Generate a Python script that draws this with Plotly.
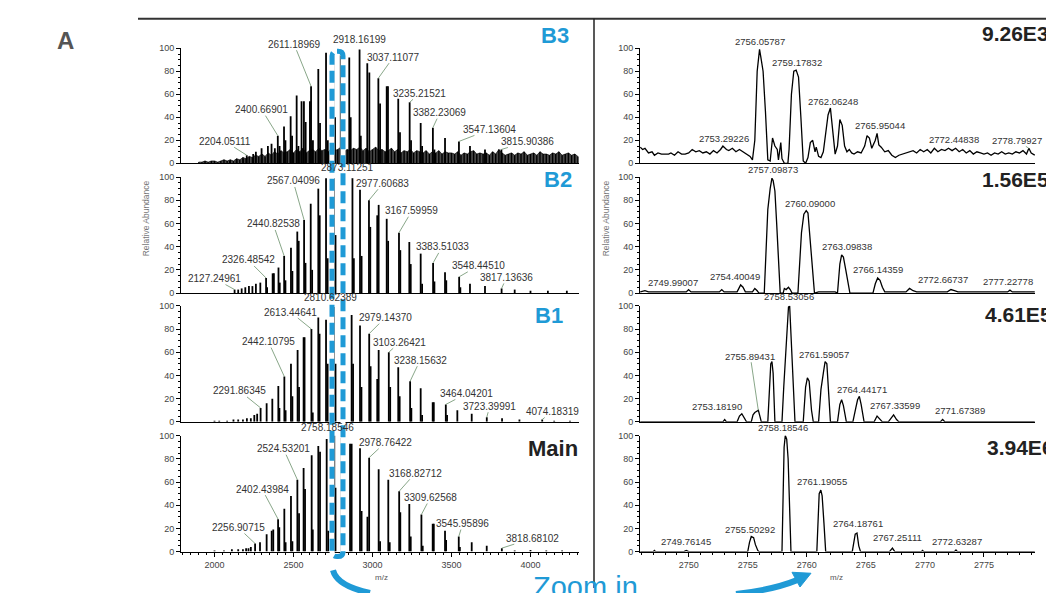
import plotly.graph_objects as go

W, H = 1046, 593

# ------------------------------------------------------------------ data
# Left column: centroid (stick) spectra  (m/z, relative abundance)
B3_MZ = [2098, 2140, 2182, 2204.05, 2245, 2262, 2298, 2338, 2361, 2382,
         2400.67, 2412, 2440, 2449, 2482, 2491, 2520, 2531, 2551, 2566, 2577,
         2604, 2611.19, 2623, 2657, 2668, 2706, 2717, 2752, 2763, 2799, 2810,
         2853, 2862, 2918.16, 2926, 2967, 2980, 3037.11, 3048, 3090, 3098,
         3163, 3174, 3235.22, 3244, 3305, 3314, 3382.23, 3392, 3459, 3547.14,
         3617, 3712, 3815.90]
B3_INT = [2, 3, 4, 7, 8, 10, 13, 15, 17, 13,
          24, 15, 32, 20, 41, 24, 59, 15, 54, 54, 36,
          54, 67, 20, 82, 35, 96, 20, 96, 40, 94, 40,
          92, 40, 99, 24, 87, 79, 74, 52, 67, 67,
          56, 27, 53, 20, 35, 15, 31, 12, 22, 19,
          15, 12, 12]
# chemical-noise floor of B3, one value every 20 m/z from 1900 to 4300
B3_NOISE_MZ = list(range(1900, 4301, 20))
B3_NOISE_INT = [1, 1, 2, 1, 2, 2, 1, 2, 3, 2,
                3, 2, 4, 3, 5, 4, 6, 5, 7, 6,
                8, 6, 9, 7, 10, 8, 11, 9, 10, 12,
                9, 12, 10, 13, 9, 11, 12, 10, 13, 11,
                12, 10, 13, 11, 12, 14, 10, 12, 11, 13,
                12, 14, 11, 13, 10, 12, 14, 11, 12, 10,
                11, 13, 10, 12, 9, 11, 10, 12, 9, 11,
                10, 9, 11, 8, 10, 9, 11, 8, 10, 9,
                9, 8, 10, 7, 9, 8, 10, 11, 8, 9,
                8, 9, 7, 10, 8, 12, 9, 7, 8, 9,
                7, 9, 8, 10, 7, 8, 9, 7, 10, 8,
                8, 7, 9, 8, 10, 7, 8, 9, 7, 8,
                6]

B2_MZ = [2127.25, 2150, 2172, 2195, 2218, 2240, 2262, 2290, 2326.49, 2333,
         2368, 2376, 2405, 2413, 2440.83, 2449, 2484, 2493, 2524, 2533,
         2567.04, 2576, 2609, 2618, 2657, 2666, 2706, 2716, 2756, 2766,
         2810, 2819, 2873.11, 2882, 2921, 2931, 2977.61, 2986, 3030, 3039,
         3090, 3099, 3167.60, 3176, 3233, 3242, 3305, 3314, 3383.51, 3392,
         3459, 3467, 3548.45, 3556, 3617, 3712, 3817.14, 3900, 4000, 4110, 4230]
B2_INT = [3, 3, 4, 5, 6, 6, 8, 9, 13, 5,
          17, 17, 22, 9, 32, 11, 39, 19, 53, 45,
          63, 26, 77, 20, 90, 67, 99, 30, 99, 50,
          99, 40, 99, 30, 89, 32, 80, 57, 67, 76,
          64, 45, 52, 37, 44, 25, 34, 8, 26, 10,
          18, 11, 14, 5, 8, 6, 4, 3, 2, 2, 2]

B1_MZ = [2000, 2030, 2080, 2120, 2150, 2180, 2205, 2230, 2252, 2270,
         2291.86, 2330, 2366, 2404, 2411, 2442.11, 2450, 2484, 2493, 2526,
         2535, 2564, 2570, 2613.45, 2622, 2657, 2665, 2706, 2716, 2756,
         2766, 2810.62, 2818, 2868, 2877, 2921, 2930, 2979.14, 2988, 3030,
         3039, 3103.26, 3112, 3163, 3172, 3238.16, 3246, 3305, 3314, 3381,
         3388, 3464.04, 3472, 3537, 3628, 3723.40, 3820, 3930, 4074.18, 4150, 4250]
B1_INT = [1, 1, 1, 2, 2, 2, 3, 3, 6, 7,
          12, 16, 20, 31, 12, 39, 10, 50, 22, 62,
          30, 73, 73, 80, 8, 90, 76, 88, 50, 99,
          50, 100, 50, 92, 50, 83, 30, 76, 48, 37,
          62, 60, 30, 47, 22, 35, 12, 29, 6, 17,
          17, 15, 6, 10, 7, 4, 3, 2, 2, 1, 1]

MAIN_MZ = [2000, 2060, 2110, 2150, 2180, 2200, 2215, 2230, 2256.91, 2288,
           2330, 2362, 2372, 2402.44, 2410, 2442, 2450, 2484, 2493, 2524.53,
           2535, 2564, 2573, 2615, 2622, 2657, 2668, 2710, 2720, 2758.19,
           2766, 2805, 2815, 2858, 2868, 2921, 2931, 2968, 2978.76, 3039,
           3048, 3100, 3109, 3168.83, 3176, 3233, 3242, 3309.63, 3318, 3381,
           3388, 3459, 3466, 3545.96, 3553, 3628, 3723, 3818.68, 3900, 4000,
           4100, 4200]
MAIN_INT = [1, 1, 2, 2, 2, 3, 3, 4, 7, 8,
            15, 18, 19, 28, 21, 37, 8, 48, 9, 62,
            33, 72, 54, 83, 19, 91, 86, 97, 18, 100,
            55, 98, 54, 93, 93, 89, 35, 30, 81, 71,
            9, 62, 8, 52, 34, 41, 13, 32, 5, 24,
            24, 18, 10, 13, 4, 8, 5, 3, 1, 1.5,
            1, 1]

# Right column: profile spectra, zoom on 2746-2779 (m/z, relative abundance)
RB3_PROFILE = [
    (2745.9, 14), (2746.1, 12), (2746.3, 13), (2746.6, 9), (2746.9, 10), (2747.1, 7),
    (2747.4, 9), (2747.7, 8), (2748.0, 8), (2748.3, 8), (2748.5, 9), (2748.8, 7),
    (2749.1, 10), (2749.4, 8), (2749.7, 8), (2750.0, 9), (2750.3, 12), (2750.6, 10),
    (2750.9, 11), (2751.2, 9), (2751.5, 10), (2751.8, 8), (2752.1, 11), (2752.4, 9),
    (2752.7, 12), (2752.9, 15), (2753.2, 12), (2753.4, 11), (2753.7, 13), (2754.0, 10),
    (2754.3, 12), (2754.6, 10), (2754.9, 8), (2755.2, 6), (2755.4, 3), (2755.6, 20),
    (2755.8, 80), (2756.0, 99), (2756.1, 93), (2756.3, 80), (2756.5, 45), (2756.7, 3),
    (2756.9, 2), (2757.1, 22), (2757.3, 15), (2757.5, 12), (2757.6, 3), (2757.8, 18),
    (2757.9, 4), (2758.1, 0), (2758.4, 0), (2758.5, 12), (2758.7, 60), (2758.9, 80),
    (2759.1, 81), (2759.3, 75), (2759.5, 40), (2759.7, 2), (2759.9, 0), (2760.1, 5),
    (2760.3, 18), (2760.5, 20), (2760.7, 10), (2760.8, 14), (2761.0, 6), (2761.2, 5),
    (2761.4, 10), (2761.6, 25), (2761.8, 42), (2762.0, 48), (2762.2, 30), (2762.4, 8),
    (2762.6, 15), (2762.8, 38), (2763.0, 33), (2763.2, 15), (2763.4, 10), (2763.6, 12),
    (2763.8, 9), (2764.0, 8), (2764.3, 10), (2764.6, 9), (2764.9, 15), (2765.1, 24),
    (2765.3, 22), (2765.5, 13), (2765.8, 20), (2765.95, 26), (2766.1, 16), (2766.3, 14),
    (2766.6, 10), (2766.9, 11), (2767.2, 7), (2767.5, 5), (2767.8, 7), (2768.1, 8),
    (2768.4, 9), (2768.7, 10), (2769.0, 11), (2769.3, 9), (2769.6, 12), (2769.9, 10),
    (2770.2, 12), (2770.5, 9), (2770.8, 13), (2771.1, 10), (2771.4, 12), (2771.7, 11),
    (2772.0, 13), (2772.3, 11), (2772.6, 13), (2772.9, 10), (2773.2, 12), (2773.5, 9),
    (2773.8, 11), (2774.1, 8), (2774.4, 10), (2774.7, 9), (2775.0, 8), (2775.3, 9),
    (2775.6, 7), (2775.9, 9), (2776.2, 8), (2776.5, 10), (2776.8, 8), (2777.1, 9),
    (2777.4, 8), (2777.7, 10), (2778.0, 9), (2778.3, 11), (2778.6, 8), (2778.8, 13),
    (2779.0, 9), (2779.3, 7)]

RB2_PROFILE = [
    (2745.9, 1), (2746.3, 2), (2746.6, 1), (2749.8, 1), (2749.99, 3), (2750.2, 1),
    (2752.6, 1), (2752.8, 3), (2753.0, 1), (2754.1, 1), (2754.25, 4), (2754.4, 7),
    (2754.6, 5), (2754.8, 1), (2755.4, 1), (2755.6, 4), (2755.8, 2), (2755.95, 0),
    (2756.4, 0), (2756.55, 30), (2756.7, 72), (2756.9, 90), (2757.05, 99), (2757.15, 97),
    (2757.3, 88), (2757.45, 60), (2757.6, 30), (2757.75, 0), (2758.0, 0), (2758.1, 4),
    (2758.25, 3), (2758.45, 5), (2758.6, 3), (2758.75, 0), (2759.25, 0), (2759.4, 30),
    (2759.55, 52), (2759.75, 68), (2759.95, 71), (2760.1, 69), (2760.3, 45), (2760.5, 20),
    (2760.65, 0), (2761.0, 1), (2762.4, 1), (2762.6, 0), (2762.8, 25), (2762.95, 33),
    (2763.1, 31), (2763.3, 20), (2763.5, 8), (2763.65, 0), (2765.6, 0), (2765.8, 8),
    (2766.0, 13), (2766.2, 11), (2766.4, 5), (2766.6, 1), (2768.4, 1), (2768.7, 4),
    (2769.0, 2), (2769.3, 1), (2771.9, 1), (2772.2, 3), (2772.5, 2), (2772.8, 1),
    (2777.0, 1), (2777.2, 2.5), (2777.4, 1), (2779.3, 1)]

RB1_PROFILE = [
    (2745.9, 0), (2752.9, 0), (2753.05, 2), (2753.2, 0), (2754.1, 0), (2754.3, 5),
    (2754.5, 7), (2754.7, 4), (2754.9, 0), (2755.3, 0), (2755.45, 6), (2755.6, 8),
    (2755.75, 9), (2755.9, 10), (2756.05, 4), (2756.15, 0), (2756.7, 0), (2756.85, 30),
    (2756.95, 50), (2757.05, 52), (2757.15, 42), (2757.3, 0), (2757.9, 0), (2758.05, 30),
    (2758.25, 70), (2758.45, 99), (2758.55, 100), (2758.7, 70), (2758.85, 30), (2759.0, 0),
    (2759.7, 0), (2759.9, 30), (2760.05, 38), (2760.2, 35), (2760.4, 10), (2760.55, 0),
    (2761.0, 0), (2761.2, 28), (2761.4, 42), (2761.55, 52), (2761.7, 50), (2761.85, 20),
    (2762.0, 0), (2762.6, 0), (2762.8, 15), (2762.95, 19), (2763.1, 14), (2763.35, 0),
    (2763.9, 0), (2764.15, 12), (2764.3, 19), (2764.45, 22), (2764.6, 15), (2764.85, 0),
    (2765.7, 0), (2765.95, 5), (2766.2, 2), (2766.4, 0), (2766.9, 0), (2767.15, 4),
    (2767.35, 6), (2767.6, 2), (2767.8, 0), (2771.3, 0), (2771.5, 2), (2771.7, 0),
    (2779.3, 0)]

RMAIN_PROFILE = [
    (2745.9, 0), (2747.0, 0), (2747.1, 1), (2747.2, 0), (2749.6, 0), (2749.8, 1),
    (2750.0, 0), (2755.0, 0), (2755.15, 8), (2755.3, 13), (2755.5, 12), (2755.65, 6),
    (2755.85, 1), (2755.95, 0), (2757.9, 0), (2758.0, 50), (2758.08, 90), (2758.18, 100),
    (2758.3, 97), (2758.42, 80), (2758.52, 50), (2758.66, 0), (2760.85, 0), (2760.95, 25),
    (2761.05, 50), (2761.19, 53), (2761.3, 48), (2761.45, 25), (2761.6, 0), (2763.85, 0),
    (2763.95, 8), (2764.1, 15), (2764.25, 16), (2764.4, 5), (2764.55, 0), (2767.0, 0),
    (2767.25, 3), (2767.45, 0), (2769.7, 0), (2769.8, 1), (2769.9, 0), (2772.5, 0),
    (2772.63, 1.5), (2772.75, 0), (2779.3, 0)]

# peak annotations (label text = m/z) and the abundance of the labelled peak
B3_LABELS = ["2918.16199", "2611.18969", "3037.11077", "3235.21521", "2400.66901",
             "3382.23069", "3547.13604", "2204.05111", "3815.90386"]
B3_LABEL_INT = [99, 67, 74, 53, 24, 31, 19, 7, 12]
B2_LABELS = ["2873.11251", "2567.04096", "2977.60683", "3167.59959", "2440.82538",
             "3383.51033", "2326.48542", "3548.44510", "2127.24961", "3817.13636"]
B2_LABEL_INT = [99, 63, 80, 52, 32, 26, 13, 14, 3, 4]
B1_LABELS = ["2810.62389", "2613.44641", "2979.14370", "3103.26421", "2442.10795",
             "3238.15632", "2291.86345", "3464.04201", "3723.39991", "4074.18319"]
B1_LABEL_INT = [100, 80, 76, 60, 39, 35, 12, 15, 4, 2]
MAIN_LABELS = ["2758.18546", "2524.53201", "2978.76422", "3168.82712", "2402.43984",
               "3309.62568", "2256.90715", "3545.95896", "3818.68102"]
MAIN_LABEL_INT = [100, 62, 81, 52, 28, 32, 7, 13, 3]

RB3_LABELS = ["2756.05787", "2759.17832", "2762.06248", "2765.95044", "2753.29226",
              "2772.44838", "2778.79927"]
RB3_LABEL_INT = [99, 81, 48, 26, 15, 13, 13]
RB2_LABELS = ["2757.09873", "2760.09000", "2763.09838", "2766.14359", "2754.40049",
              "2749.99007", "2772.66737", "2777.22778"]
RB2_LABEL_INT = [99, 71, 33, 13, 7, 3, 3, 2.5]
RB1_LABELS = ["2758.53056", "2755.89431", "2761.59057", "2764.44171", "2753.18190",
              "2767.33599", "2771.67389"]
RB1_LABEL_INT = [100, 10, 52, 22, 2, 6, 2]
RMAIN_LABELS = ["2758.18546", "2761.19055", "2764.18761", "2755.50292", "2749.76145",
                "2767.25111", "2772.63287"]
RMAIN_LABEL_INT = [100, 53, 16, 13, 1, 3, 1.5]

PANEL_NAMES = ["B3", "B2", "B1", "Main"]
PANEL_TIC = ["9.26E3", "1.56E5", "4.61E5", "3.94E6"]

X_TICKS_LEFT = [2000, 2500, 3000, 3500, 4000]
X_TICKS_RIGHT = [2750, 2755, 2760, 2765, 2770, 2775]
Y_TICKS = [0, 20, 40, 60, 80, 100]

# ------------------------------------------------------------------ layout / styles
FONT = "Liberation Sans, Arial, sans-serif"
BLUE = "#1f9ad6"
LEADER = "#6a8f6a"
LEFT_X = (181, 579)
RIGHT_X = (640, 1035)
ROWS = [(44, 161), (175, 293), (306, 424), (438, 556)]
RANGE_L = [1788, 4307]
RANGE_R = [2745.88, 2779.32]

# (dx, dy, leader-line) label offsets in pixels
B3_OFF = [(0, -10, 0), (-17, -42, 1), (15, -21, 1), (10, -9, 1), (-16, -26, 1),
          (7, -15, 1), (31, -12, 1), (-22, -14, 1), (26, -8, 1)]
B2_OFF = [(-5, -11, 0), (-11, -39, 1), (14, -17, 1), (13, -22, 1), (-11, -32, 1),
          (9, -16, 1), (-18, -18, 1), (19, -11, 1), (-20, -11, 1), (5, -11, 1)]
B1_OFF = [(-12, -8, 0), (-21, -17, 1), (16, -16, 1), (11, -10, 1), (-16, -35, 1),
          (10, -21, 1), (-21, -17, 1), (21, -11, 1), (3, -11, 1), (10, -8, 1)]
MAIN_OFF = [(-7, -8, 0), (-14, -31, 1), (16, -15, 1), (16, -18, 1), (-16, -30, 1),
            (9, -17, 1), (-17, -16, 1), (4, -13, 1), (31, -10, 1)]
RB3_OFF = [(0, -8, 0), (0, -8, 0), (2, -7, 0), (3, -8, 0), (-4, -8, 0), (0, -9, 0), (-12, -8, 1)]
RB2_OFF = [(0, -9, 0), (2, -7, 0), (4, -8, 0), (-1, -8, 0), (-6, -8, 0), (-16, -7, 0),
           (-13, -10, 0), (-2, -9, 0)]
RB1_OFF = [(0, -9, 0), (-8, -54, 1), (-2, -7, 0), (3, -7, 0), (-9, -13, 0), (2, -9, 0), (15, -9, 0)]
RMAIN_OFF = [(-2, -8, 0), (1, -9, 0), (2, -10, 0), (-4, -7, 0), (0, -9, 0), (5, -11, 0), (1, -8, 0)]


def sticks(mz, inten):
    xs, ys = [], []
    for m, v in zip(mz, inten):
        xs += [m, m, None]
        ys += [0, v, None]
    return xs, ys


def px(x, y):
    return f"{x / W:.5f},{1 - y / H:.5f}"


def paper_text(x, y, text, size, color, xanchor="center", yanchor="middle", **kw):
    return dict(x=x / W, y=1 - y / H, xref="paper", yref="paper", text=text,
                showarrow=False, xanchor=xanchor, yanchor=yanchor,
                font=dict(family=FONT, size=size, color=color), **kw)


fig = go.Figure()

left_data = [(B3_MZ, B3_INT), (B2_MZ, B2_INT), (B1_MZ, B1_INT), (MAIN_MZ, MAIN_INT)]
right_data = [RB3_PROFILE, RB2_PROFILE, RB1_PROFILE, RMAIN_PROFILE]
left_labels = [(B3_LABELS, B3_LABEL_INT, B3_OFF), (B2_LABELS, B2_LABEL_INT, B2_OFF),
               (B1_LABELS, B1_LABEL_INT, B1_OFF), (MAIN_LABELS, MAIN_LABEL_INT, MAIN_OFF)]
right_labels = [(RB3_LABELS, RB3_LABEL_INT, RB3_OFF), (RB2_LABELS, RB2_LABEL_INT, RB2_OFF),
                (RB1_LABELS, RB1_LABEL_INT, RB1_OFF), (RMAIN_LABELS, RMAIN_LABEL_INT, RMAIN_OFF)]

annotations = []
layout_axes = {}

for row in range(4):
    top, bot = ROWS[row]
    for col in range(2):
        n = row * 2 + col + 1
        sx = "" if n == 1 else str(n)
        xref, yref = "x" + sx, "y" + sx
        x0, x1 = LEFT_X if col == 0 else RIGHT_X
        bottom = row == 3
        if col == 0:
            if row == 0:
                # dense noise floor drawn as a filled band plus individual sticks
                fig.add_trace(go.Scatter(x=B3_NOISE_MZ, y=B3_NOISE_INT, mode="lines",
                                         xaxis=xref, yaxis=yref, fill="tozeroy",
                                         fillcolor="rgba(0,0,0,0.72)",
                                         line=dict(color="rgba(0,0,0,0.85)", width=0.8),
                                         hoverinfo="skip", showlegend=False))
                xs, ys = sticks(B3_NOISE_MZ, B3_NOISE_INT)
                fig.add_trace(go.Scatter(x=xs, y=ys, mode="lines", xaxis=xref, yaxis=yref,
                                         line=dict(color="black", width=1.4),
                                         hoverinfo="skip", showlegend=False))
            mz, it = left_data[row]
            xs, ys = sticks(mz, it)
            fig.add_trace(go.Scatter(x=xs, y=ys, mode="lines", xaxis=xref, yaxis=yref,
                                     line=dict(color="black", width=1.8),
                                     hoverinfo="skip", showlegend=False))
            labs, ints, offs = left_labels[row]
        else:
            prof = right_data[row]
            fig.add_trace(go.Scatter(x=[p[0] for p in prof], y=[p[1] for p in prof],
                                     mode="lines", xaxis=xref, yaxis=yref,
                                     line=dict(color="black", width=1.3),
                                     hoverinfo="skip", showlegend=False))
            labs, ints, offs = right_labels[row]

        for lab, v, (dx, dy, ln) in zip(labs, ints, offs):
            annotations.append(dict(
                x=float(lab), y=v, xref=xref, yref=yref, text=lab,
                showarrow=True, arrowhead=0, arrowwidth=0.8, standoff=0,
                arrowcolor=LEADER if ln else "rgba(0,0,0,0)",
                ax=dx, ay=dy, axref="pixel", ayref="pixel",
                font=dict(family=FONT, size=9.5 if col == 1 else 10, color="#333333"),
                borderpad=0))

        xa = dict(domain=[x0 / W, x1 / W], anchor=yref,
                  range=RANGE_L if col == 0 else RANGE_R,
                  showline=True, linecolor="black", linewidth=1.2,
                  showgrid=False, zeroline=False, fixedrange=True)
        if bottom:
            xa.update(tickmode="array",
                      tickvals=X_TICKS_LEFT if col == 0 else X_TICKS_RIGHT,
                      ticks="outside", ticklen=4, tickwidth=1, tickcolor="black",
                      tickfont=dict(family=FONT, size=9, color="#444444"),
                      minor=dict(ticks="outside", ticklen=2, tickcolor="black",
                                 dtick=50 if col == 0 else 1,
                                 tick0=2000 if col == 0 else 2750, showgrid=False))
        else:
            xa.update(showticklabels=False, ticks="")
        ya = dict(domain=[1 - bot / H, 1 - top / H], anchor=xref, range=[0, 100],
                  tickmode="array", tickvals=Y_TICKS,
                  ticks="outside", ticklen=4, tickwidth=1, tickcolor="black",
                  tickfont=dict(family=FONT, size=9, color="#444444"),
                  minor=dict(ticks="outside", ticklen=2, tickcolor="black", dtick=5,
                             tick0=0, showgrid=False),
                  showline=True, linecolor="black", linewidth=1,
                  showgrid=False, zeroline=False, fixedrange=True)
        layout_axes["xaxis" + sx] = xa
        layout_axes["yaxis" + sx] = ya

# panel names and total ion counts
name_pos = [(555, 31), (558, 178), (549, 316), (553, 451)]
tic_pos = [(980, 29), (980, 178), (983, 315), (985, 450)]
for i, (nm, tic) in enumerate(zip(PANEL_NAMES, PANEL_TIC)):
    x, y = name_pos[i]
    annotations.append(paper_text(x, y, f"<b>{nm}</b>", 22,
                                  BLUE if nm != "Main" else "#222222"))
    tx, ty = tic_pos[i]
    annotations.append(paper_text(tx, ty, f"<b>{tic}</b>", 21, "#222222", xanchor="left"))

# axis titles and misc text
for xp in (146, 606):
    annotations.append(paper_text(xp, 217, "Relative Abundance", 8.5, "#777777", textangle=-90))
for xp in (381, 836):
    annotations.append(paper_text(xp, 582, "m/z", 8, "#555555"))
annotations.append(paper_text(65, 36, "<b>A</b>", 24, "#555555"))
annotations.append(paper_text(585, 574, "Zoom in", 29, BLUE, yanchor="top"))

# frame lines, dashed selection box and zoom arrows
shapes = [
    dict(type="line", xref="paper", yref="paper", x0=138 / W, x1=1, y0=1 - 14 / H, y1=1 - 14 / H,
         line=dict(color="#333333", width=2)),
    dict(type="line", xref="paper", yref="paper", x0=594 / W, x1=594 / W, y0=1 - 14 / H, y1=0,
         line=dict(color="#222222", width=1.5)),
]
bx0, bx1, by0, by1, r = 332, 343, 47, 561, 5
box = (f"M {px(bx0 + r, by0)} L {px(bx1 - r, by0)} Q {px(bx1, by0)} {px(bx1, by0 + r)} "
       f"L {px(bx1, by1 - r)} Q {px(bx1, by1)} {px(bx1 - r, by1)} L {px(bx0 + r, by1)} "
       f"Q {px(bx0, by1)} {px(bx0, by1 - r)} L {px(bx0, by0 + r)} Q {px(bx0, by0)} {px(bx0 + r, by0)} Z")
shapes.append(dict(type="path", path=box, xref="paper", yref="paper", layer="above",
                   line=dict(color="white", width=5)))
shapes.append(dict(type="path", path=box, xref="paper", yref="paper", layer="above",
                   line=dict(color=BLUE, width=5, dash="12px,6px")))
shapes.append(dict(type="path", xref="paper", yref="paper", layer="above",
                   path=f"M {px(333, 575)} Q {px(337, 591)} {px(370, 598)}",
                   line=dict(color=BLUE, width=6)))
shapes.append(dict(type="path", xref="paper", yref="paper", layer="above",
                   path=f"M {px(736, 599)} Q {px(773, 595)} {px(797, 585)}",
                   line=dict(color=BLUE, width=6)))
shapes.append(dict(type="path", xref="paper", yref="paper", layer="above",
                   path=f"M {px(811, 578)} L {px(800, 592)} L {px(792, 577)} Z",
                   fillcolor=BLUE, line=dict(color=BLUE, width=1)))

fig.update_layout(width=W, height=H, margin=dict(l=0, r=0, t=0, b=0),
                  paper_bgcolor="white", plot_bgcolor="white",
                  showlegend=False, annotations=annotations, shapes=shapes,
                  **layout_axes)

fig.write_html("out.html", config={"displayModeBar": False},
               post_script="document.body.style.margin='0px';"
                           "document.body.style.overflow='hidden';")
